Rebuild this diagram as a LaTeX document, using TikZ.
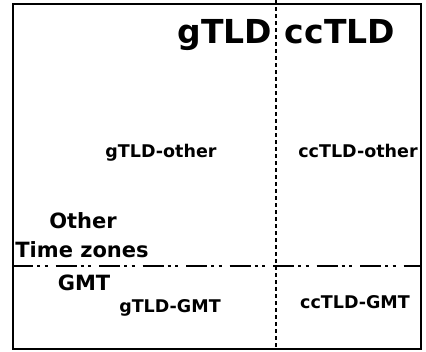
\documentclass[tikz,border=0pt]{standalone}
\usepackage{fontspec}
\setmainfont{DejaVu Sans}
\tikzset{
  bigtxt/.style={anchor=base, inner sep=0pt, font=\fontsize{33}{38}\selectfont\bfseries},
  medtxt/.style={anchor=base, inner sep=0pt, font=\fontsize{21}{25}\selectfont\bfseries},
  smltxt/.style={anchor=base, inner sep=0pt, font=\fontsize{17.5}{21}\selectfont\bfseries},
  frame/.style={draw=black, line width=2.2pt},
  vsplit/.style={draw=black, line width=2pt, dash pattern=on 4pt off 3pt},
  hsplit/.style={draw=black, line width=2.2pt, dash pattern=on 21pt off 4pt on 3pt off 4.5pt on 3pt off 8pt},
}
\begin{document}
\begin{tikzpicture}[x=1pt, y=-1pt]
\useasboundingbox (0,0) rectangle (426,351);
% frame
\coordinate (tl) at (13,4);
\coordinate (br) at (421,349);
\draw[frame] (tl) rectangle (br);
% splits
\coordinate (vtop) at (276,0);
\coordinate (vbot) at (276,347);
\draw[vsplit] (vtop) -- (vbot);
\coordinate (hl) at (12,266);
\coordinate (hr) at (421,266);
\draw[hsplit] (hl) -- (hr);
% labels
\node[bigtxt] (gtld) at (225,43) {gTLD};
\node[bigtxt] (cctld) at (340,43) {ccTLD};
\node[smltxt] (go) at (161,157) {gTLD-other};
\node[smltxt] (co) at (358,157) {ccTLD-other};
\node[medtxt] (oth) at (83,228) {Other};
\node[medtxt] (tz) at (82,257) {Time zones};
\node[medtxt] (gmt) at (84,290) {GMT};
\node[smltxt] (gg) at (170,312) {gTLD-GMT};
\node[smltxt] (cg) at (355,308) {ccTLD-GMT};
\end{tikzpicture}
\end{document}
